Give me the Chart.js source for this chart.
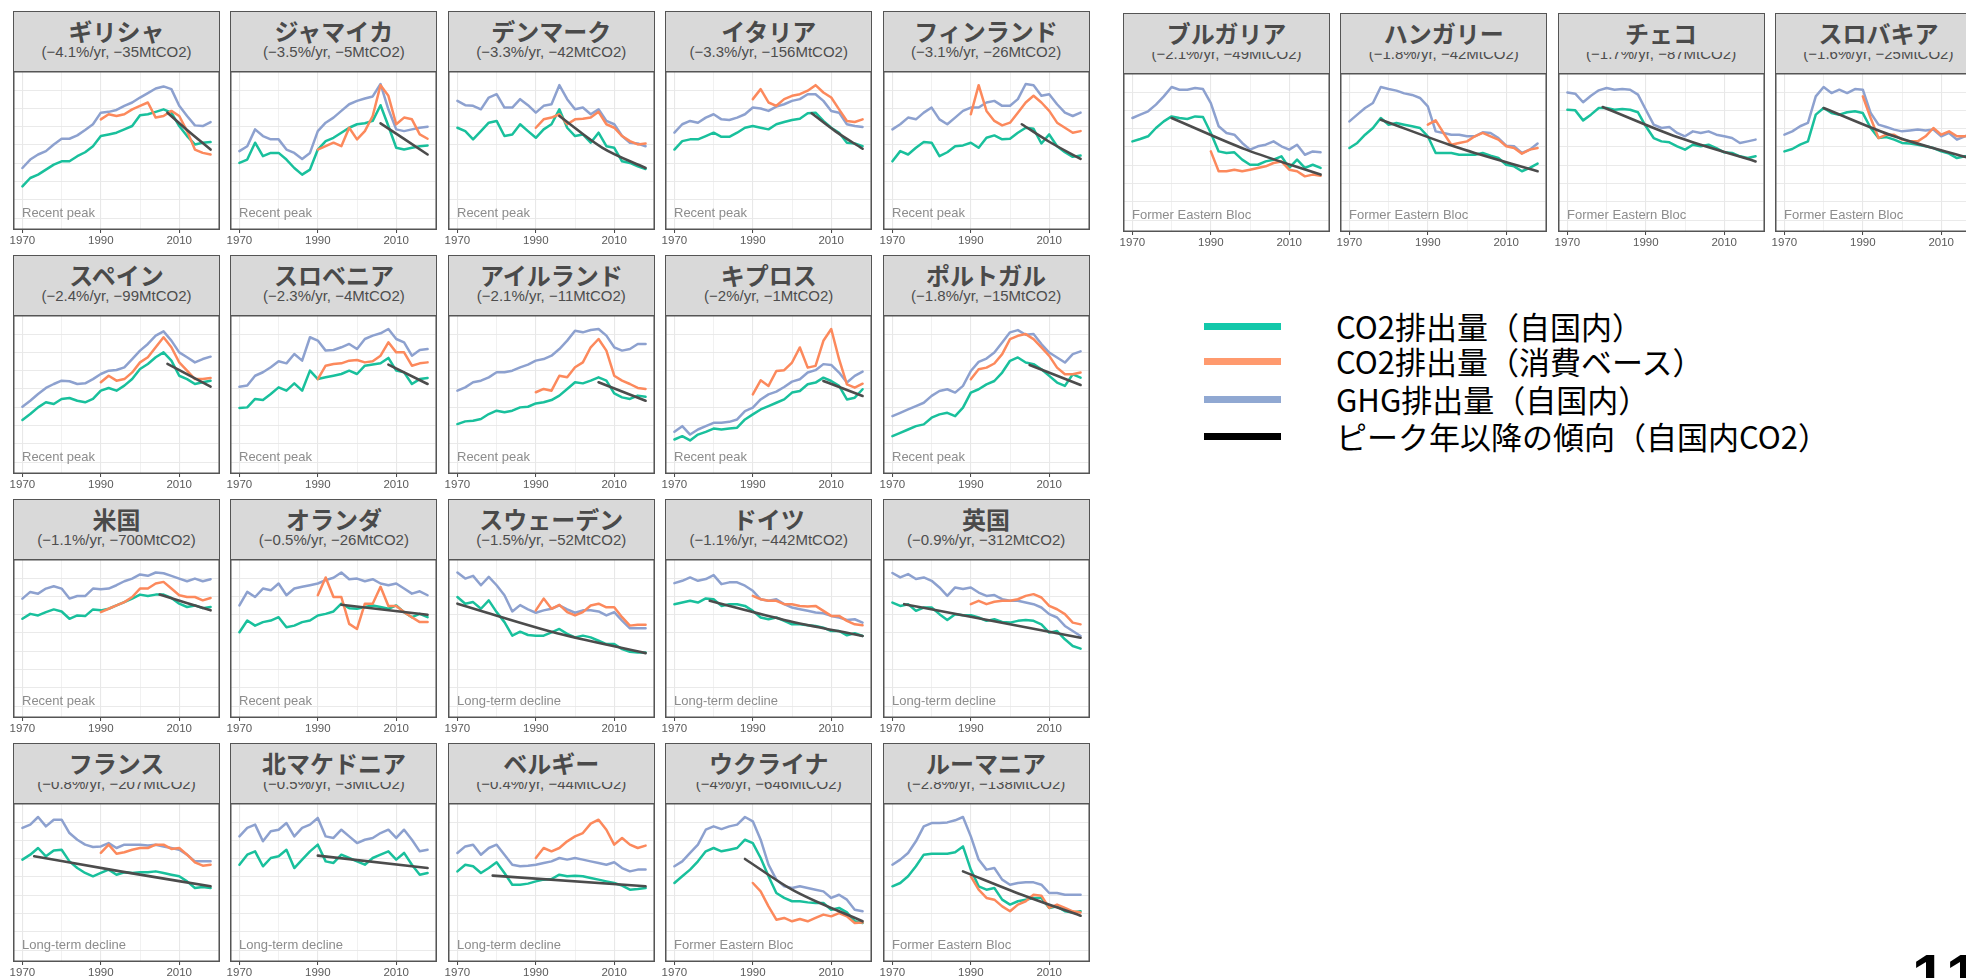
<!DOCTYPE html>
<html lang="ja">
<head>
<meta charset="utf-8">
<title>ピーク年以降の排出傾向</title>
<script src="https://cdn.jsdelivr.net/npm/chart.js@4.4.1/dist/chart.umd.min.js"></script>
<style>
  html, body { margin: 0; padding: 0; background: #fff; }
  body { width: 1966px; height: 978px; overflow: hidden; position: relative; }
  .panel { position: absolute; width: 207px; height: 240px; }
  .strip { position: relative; height: 61px; background: #d9d9d9; border: 1.5px solid #555;
           box-sizing: border-box; overflow: hidden; }
  .sub { position: absolute; left: 0; right: 0; top: 31px; line-height: 18px; text-align: center;
         font-family: "Liberation Sans", Arial, sans-serif; font-size: 15px; color: #4d4d4d; white-space: nowrap; }
  .ttl { position: absolute; left: 0; right: 0; top: 0; height: 38px; padding-top: 4px; box-sizing: border-box;
         line-height: 30px; text-align: center; font-family: "Noto Sans CJK JP", sans-serif; font-weight: 700;
         font-size: 24px; color: #4a4a4a; white-space: nowrap; }
  .ttl.clip { background: #d9d9d9; }
  .panel canvas { position: absolute; left: -8px; top: 60px; }
  .legend-item { position: absolute; left: 1204px; height: 40px; width: 720px; }
  .legend-item .sw { position: absolute; left: 0; top: 16.5px; width: 77px; height: 7px; }
  .legend-item .tx { position: absolute; left: 132px; top: 0; line-height: 40px; font-family: "Noto Sans CJK JP", sans-serif;
                     font-size: 31px; color: #000; white-space: nowrap; }
  .pageno { position: absolute; left: 1912px; top: 946px; font-family: "Liberation Sans", Arial, sans-serif;
            font-weight: 700; font-size: 60px; line-height: 60px; color: #000; letter-spacing: 4px; }
</style>
</head>
<body>
<script>
// Years sampled for every country (territorial CO2 and GHG), and for consumption-based CO2
const YEARS = [1970,1972,1974,1976,1978,1980,1982,1984,1986,1988,1990,1992,1994,1996,1998,2000,2002,2004,2006,2008,2010,2012,2014,2016,2018];
const CB_YEARS = [1990,1992,1994,1996,1998,2000,2002,2004,2006,2008,2010,2012,2014,2016,2018];
const X_GRID = [1970,1980,1990,2000,2010,2020];
const X_LABELS = [1970,1990,2010];
const Y_GRID = [7.5,19,30.5,42,53.5,65,76.5,88];

// Emission indices (share of each panel's own range, 0 = bottom, 100 = top)
const greeceGhg = [39.0,44.3,47.5,49.6,53.8,57.4,57.4,59.5,62.9,66.5,73.8,74.3,75.5,78.1,80.2,83.3,86.1,89.0,90.3,88.6,78.1,71.7,65.8,65.4,67.9];
const greeceCo2 = [27.4,32.7,34.8,38.0,41.1,43.2,43.2,46.4,48.9,52.7,59.1,60.1,61.2,63.3,65.4,72.2,72.8,74.3,75.9,73.8,65.4,59.1,53.8,54.9,55.3];
const greeceCons = [69.6,72.8,71.7,72.8,75.9,78.1,80.2,70.7,71.7,74.9,71.7,62.2,50.6,48.5,47.5];
const greeceTrendYears = [2007,2012,2018];
const greeceTrend = [73.8,62.9,50.6];

const jamaicaGhg = [49.6,52.7,63.3,59.1,57.0,57.0,50.6,48.5,44.7,48.5,62.2,67.5,70.7,74.9,79.1,81.2,82.7,84.0,91.8,75.9,63.3,62.2,63.3,64.3,65.0];
const jamaicaCo2 = [42.2,44.3,54.9,46.4,48.5,48.5,44.3,39.0,34.8,38.0,50.6,55.9,58.0,61.2,64.3,66.5,67.1,68.6,78.5,65.4,51.7,50.6,51.7,52.7,53.2];
const jamaicaCons = [50.6,52.7,54.9,52.7,64.3,57.0,62.2,71.7,91.1,84.4,66.5,70.7,69.6,60.1,57.4];
const jamaicaTrendYears = [2006,2012,2018];
const jamaicaTrend = [67.1,57.3,47.5];

const denmarkGhg = [81.2,78.5,78.1,75.9,83.3,85.4,77.0,77.0,82.3,78.5,73.8,78.1,79.1,91.1,82.3,75.9,77.0,72.8,75.9,68.6,66.5,59.1,54.9,54.4,52.7];
const denmarkCo2 = [64.3,62.2,57.0,62.2,67.5,68.6,59.1,60.1,66.5,62.2,58.0,63.3,66.5,75.9,64.3,59.1,60.1,54.9,61.2,52.7,51.7,43.2,42.2,40.1,38.4];
const denmarkCons = [64.3,69.6,70.7,72.8,66.5,69.6,70.0,70.7,74.3,66.5,64.3,59.1,55.9,53.8,54.4];
const denmarkTrendYears = [1996,2007,2018];
const denmarkTrend = [71.7,51.7,39.0];

const italyGhg = [61.2,66.5,68.6,67.5,70.7,72.8,69.6,69.2,70.7,72.8,77.0,76.4,74.9,77.6,79.1,81.2,82.3,85.4,85.4,81.2,74.9,73.8,66.5,65.4,64.8];
const italyCo2 = [50.6,55.9,57.0,57.0,59.1,61.2,58.6,58.6,61.2,64.3,65.4,64.3,63.3,66.5,67.9,69.2,70.0,73.4,73.8,68.6,64.3,61.2,54.9,54.4,52.7];
const italyCons = [82.3,88.6,80.2,78.1,82.3,84.4,85.4,87.6,91.1,86.5,83.3,75.9,68.6,67.9,69.6];
const italyTrendYears = [2005,2011,2018];
const italyTrend = [73.4,62.2,51.1];

const finlandGhg = [63.3,66.5,70.7,69.6,73.8,77.0,69.6,66.5,70.7,74.9,77.0,77.0,80.2,81.2,78.1,78.1,82.3,91.8,91.1,84.4,85.4,79.1,73.8,71.7,73.8];
const finlandCo2 = [43.2,49.6,47.5,51.7,55.3,54.9,46.4,48.9,52.7,53.2,54.9,51.7,58.0,59.5,57.0,57.4,61.2,64.3,63.7,54.4,60.1,52.7,48.9,46.0,46.8];
const finlandCons = [72.8,91.1,74.9,68.6,65.8,67.5,73.8,80.2,84.4,80.2,74.9,67.5,64.3,61.2,62.2];
const finlandTrendYears = [2003,2010,2018];
const finlandTrend = [66.5,55.5,44.7];

const spainGhg = [42.3,46.1,50.3,54.1,56.6,58.7,58.3,56.6,57.0,59.7,62.9,65.0,65.4,67.1,72.3,77.6,81.8,87.0,89.7,83.9,76.5,73.4,70.2,72.3,73.8];
const spainCo2 = [34.0,37.7,41.9,45.1,44.0,47.2,47.8,46.1,45.1,47.2,52.4,54.1,52.4,55.6,59.7,66.0,69.2,73.4,76.5,71.3,61.8,59.7,56.6,57.7,58.7];
const spainCons = [57.7,61.8,58.7,59.7,63.9,70.2,73.4,79.7,86.0,79.7,70.2,65.0,59.7,59.7,60.4];
const spainTrendYears = [2007,2018];
const spainTrend = [69.2,54.9];

const sloveniaGhg = [54.9,55.6,61.8,64.0,67.1,70.9,69.6,75.5,71.3,86.0,83.9,77.6,78.0,79.7,81.8,78.6,84.9,87.0,88.5,91.2,84.9,82.8,74.4,78.0,78.6];
const sloveniaCo2 = [41.5,41.9,47.2,46.5,50.3,54.5,52.4,57.0,52.4,65.0,59.7,60.8,61.8,62.9,65.0,62.9,68.1,68.8,69.6,73.0,65.0,63.9,56.6,59.7,60.4];
const sloveniaCons = [59.7,68.1,69.2,69.6,71.3,71.7,70.2,70.9,74.4,82.8,76.5,76.5,68.1,69.6,70.2];
const sloveniaTrendYears = [2008,2018];
const sloveniaTrend = [68.8,56.6];

const irelandGhg = [52.4,54.5,57.7,58.7,60.8,64.0,64.0,65.0,67.1,68.8,71.3,72.3,74.4,78.6,83.9,90.1,89.1,90.6,91.2,87.0,79.7,77.6,78.6,81.8,81.8];
const irelandCo2 = [31.4,33.1,33.5,34.6,37.7,39.8,38.8,39.8,41.9,42.3,44.4,45.1,46.5,49.3,53.5,57.7,57.0,58.7,60.8,58.7,50.7,48.2,47.2,49.3,48.6];
const irelandCons = [51.4,53.5,52.4,61.8,60.8,67.1,70.2,79.7,84.9,77.6,61.8,58.7,56.6,54.1,53.5];
const irelandTrendYears = [2006,2018];
const irelandTrend = [57.7,46.1];

const cyprusGhg = [26.5,30.1,24.8,28.0,30.1,32.2,32.2,32.8,34.3,39.6,41.7,46.9,50.1,51.8,54.7,58.1,59.6,63.8,65.3,69.1,68.6,63.8,57.5,61.7,64.4];
const cyprusCo2 = [21.7,23.8,21.1,24.8,26.5,28.6,28.0,28.6,29.1,34.3,37.5,40.6,42.7,44.8,46.9,51.2,52.2,56.4,57.5,60.6,58.5,55.4,46.9,48.0,53.3];
const cyprusCons = [50.1,58.9,55.4,64.8,65.3,70.1,79.6,66.9,68.0,83.8,91.2,72.2,56.4,54.3,56.8];
const cyprusTrendYears = [2008,2018];
const cyprusTrend = [58.5,49.1];

const portugalGhg = [36.4,38.5,40.6,42.7,44.8,49.1,52.2,53.3,51.2,55.4,64.8,70.5,72.6,76.4,82.7,89.1,90.5,87.6,88.0,81.7,76.4,73.3,70.1,75.4,77.1];
const portugalCo2 = [23.8,25.9,28.0,30.1,31.2,35.4,37.5,38.5,36.4,41.7,51.2,53.3,56.4,58.5,63.8,71.2,73.3,70.1,69.1,65.9,61.7,57.5,55.4,62.7,60.6];
const portugalCons = [59.6,65.9,66.9,69.5,75.4,84.8,86.9,88.0,84.8,79.6,74.3,66.9,62.7,62.7,63.8];
const portugalTrendYears = [2005,2018];
const portugalTrend = [68.6,56.0];

const usaGhg = [75.1,79.3,78.2,81.4,82.9,81.4,75.1,76.7,76.7,81.4,81.0,81.4,83.5,86.0,87.7,90.3,89.4,91.5,91.0,89.4,87.7,86.0,87.7,86.0,87.3];
const usaCo2 = [62.4,65.5,64.5,66.6,68.3,67.0,62.4,64.5,64.1,68.3,67.7,68.7,70.8,72.9,75.1,77.6,76.7,77.6,77.6,75.5,71.9,69.8,70.8,69.1,69.8];
const usaCons = [66.6,68.7,70.8,72.9,76.1,81.4,81.4,84.6,85.6,81.4,77.2,76.1,76.1,74.0,75.5];
const usaTrendYears = [2005,2018];
const usaTrend = [77.6,67.7];

const netherlandsGhg = [70.8,79.3,76.1,81.4,80.3,84.6,77.2,81.4,82.5,83.5,84.6,86.7,88.2,91.5,87.3,87.7,86.0,87.3,84.6,83.5,84.6,81.4,78.2,79.7,77.2];
const netherlandsCo2 = [53.9,61.3,58.1,60.3,61.3,63.4,57.1,58.1,60.3,61.3,64.5,65.5,67.0,71.9,69.1,68.7,69.8,70.8,69.8,68.7,70.8,66.6,63.4,65.5,63.4];
const netherlandsCons = [77.2,88.4,76.1,76.1,59.2,56.0,71.9,71.9,82.5,70.4,70.4,66.6,63.4,60.3,60.3];
const netherlandsTrendYears = [1996,2018];
const netherlandsTrend = [71.2,64.9];

const swedenGhg = [91.5,87.7,89.4,83.5,88.8,83.5,77.2,67.0,71.0,68.3,66.2,67.7,68.7,70.8,68.3,66.2,67.7,67.7,67.0,64.5,66.6,61.3,56.4,56.4,56.4];
const swedenCo2 = [76.1,71.9,72.9,68.7,74.0,66.6,60.3,51.8,54.3,52.2,51.8,51.8,53.9,56.0,52.9,50.7,51.8,50.7,48.6,46.5,46.5,43.3,41.6,41.2,41.2];
const swedenCons = [67.7,75.1,68.7,71.2,66.6,64.5,66.6,70.8,71.9,69.6,69.6,63.4,58.1,58.6,58.6];
const swedenTrendYears = [1970,1994,2018];
const swedenTrend = [71.9,54.3,40.8];

const germanyGhg = [84.8,86.3,88.4,86.3,87.4,89.9,84.2,85.3,85.3,83.2,80.0,74.7,73.7,74.7,71.6,69.5,68.4,67.4,66.3,65.9,64.2,63.2,61.7,62.1,60.0];
const germanyCo2 = [71.6,72.6,73.7,72.6,75.2,74.7,70.5,71.6,71.6,70.5,67.4,63.2,62.1,63.2,61.1,58.9,58.9,58.3,57.9,56.8,54.7,54.7,52.0,53.3,51.6];
const germanyCons = [76.8,74.7,73.7,73.7,71.6,71.6,70.5,70.1,70.5,67.4,64.2,64.2,61.1,58.9,58.3];
const germanyTrendYears = [1979,1998,2018];
const germanyTrend = [73.7,61.7,51.6];

const ukGhg = [91.2,88.4,90.5,87.4,88.4,86.3,82.1,76.8,82.1,81.1,82.1,78.9,76.8,77.3,74.7,73.7,73.7,72.6,71.6,69.5,65.3,63.2,57.9,54.7,51.6];
const ukCo2 = [72.6,70.5,71.6,67.4,69.5,69.5,65.3,61.7,65.3,64.6,64.6,63.2,61.1,62.1,60.4,60.0,61.1,61.7,61.1,58.9,53.7,54.7,49.5,45.3,43.6];
const ukCons = [71.6,73.7,71.6,73.1,73.7,73.7,74.7,76.8,77.9,75.8,70.5,68.4,65.3,60.0,58.9];
const ukTrendYears = [1973,2018];
const ukTrend = [71.6,50.5];

const franceGhg = [84.3,86.4,91.2,85.3,89.5,89.5,81.1,76.9,73.8,72.3,72.7,74.8,71.7,73.8,73.8,73.8,73.2,73.8,72.7,71.7,70.6,67.5,63.3,63.3,63.3];
const franceCo2 = [64.4,67.5,71.7,66.5,70.2,70.6,63.3,59.1,56.0,53.9,56.0,58.1,54.9,56.4,56.0,56.4,56.4,57.0,56.0,54.9,53.9,50.7,46.5,47.2,46.5];
const franceCons = [68.6,73.8,68.1,69.0,70.6,71.7,71.7,73.8,73.8,71.1,71.7,67.5,62.7,60.6,61.2];
const franceTrendYears = [1973,1995,2018];
const franceTrend = [66.5,57.0,47.6];

const macedoniaGhg = [79.0,84.3,86.4,75.9,82.2,83.2,87.4,79.0,84.3,86.4,90.6,79.0,78.0,83.2,79.0,74.8,76.9,78.0,81.1,83.2,78.0,83.2,76.9,69.6,70.6];
const macedoniaCo2 = [61.2,67.5,69.6,60.2,65.4,66.5,70.6,59.1,64.4,69.6,73.8,63.3,62.3,67.5,65.4,63.3,61.2,65.4,67.5,69.6,64.4,68.6,61.2,54.9,56.0];
const macedoniaCons = [];
const macedoniaTrendYears = [1990,2018];
const macedoniaTrend = [66.9,59.1];

const belgiumGhg = [68.6,72.7,73.8,67.5,71.7,73.8,67.5,61.2,60.2,60.6,61.2,62.3,63.3,65.4,64.4,65.4,64.4,63.3,62.3,61.2,62.7,59.1,57.0,58.1,58.1];
const belgiumCo2 = [57.0,61.2,60.2,56.0,59.1,62.7,56.0,48.6,48.6,49.3,50.7,51.8,52.2,54.9,53.9,54.3,53.9,52.8,51.8,50.7,49.7,48.0,45.5,45.9,46.5];
const belgiumCons = [65.4,71.7,69.6,71.7,75.9,79.0,81.1,87.0,89.5,83.2,73.8,78.0,73.8,71.7,73.2];
const belgiumTrendYears = [1979,2018];
const belgiumTrend = [54.3,47.6];

const ukraineGhg = [60.2,63.3,68.6,73.8,83.2,85.3,83.6,85.3,86.4,91.2,88.5,76.9,61.2,51.8,47.6,46.5,47.6,46.5,45.5,44.4,40.3,42.3,39.2,32.9,31.9];
const ukraineCo2 = [49.7,53.9,58.1,63.3,69.6,71.7,69.6,70.6,71.7,76.9,74.8,65.4,53.9,43.4,40.3,38.2,38.2,37.5,37.1,37.1,32.9,34.0,31.2,25.6,24.5];
const ukraineCons = [49.7,44.4,35.0,26.6,27.7,25.6,27.0,25.6,27.7,29.8,28.7,30.8,28.7,24.5,24.9];
const ukraineTrendYears = [1988,2000,2018];
const ukraineTrend = [64.8,45.5,25.6];

const romaniaGhg = [61.2,64.4,68.6,75.9,85.3,87.4,87.4,87.8,89.1,91.2,79.0,64.4,58.1,59.1,51.8,48.6,49.7,50.1,50.1,48.6,43.4,43.4,42.3,42.3,42.3];
const romaniaCo2 = [47.6,49.7,53.9,60.2,67.5,68.1,68.1,68.1,69.0,72.7,58.1,47.6,45.5,46.5,39.2,36.1,38.2,39.2,40.3,40.3,34.0,35.0,31.9,31.2,31.9];
const romaniaCons = [53.9,45.5,40.3,39.2,35.0,31.9,36.1,38.2,42.3,41.7,34.0,36.1,34.0,31.9,31.2];
const romaniaTrendYears = [1988,2003,2018];
const romaniaTrend = [57.0,42.3,29.1];

const bulgariaGhg = [71.7,73.8,75.9,80.1,85.3,91.2,89.5,89.5,90.6,89.9,81.1,66.5,62.3,61.2,56.0,51.8,53.9,54.9,57.0,53.9,51.8,54.9,48.6,50.7,50.1];
const bulgariaCo2 = [57.0,58.5,60.2,65.4,69.6,72.7,71.7,71.1,72.7,72.3,62.3,50.7,49.7,50.1,45.5,42.3,42.3,44.4,45.5,47.6,40.3,45.5,40.3,42.3,40.3];
const bulgariaCons = [50.7,38.2,38.2,39.2,38.2,39.2,40.3,41.3,43.4,44.4,39.2,38.2,35.0,36.1,35.4];
const bulgariaTrendYears = [1980,1999,2018];
const bulgariaTrend = [71.7,51.8,36.1];

const hungaryGhg = [69.6,73.8,78.0,81.1,91.2,89.9,88.9,87.2,86.2,84.3,79.0,63.3,62.3,61.2,61.2,60.2,60.2,62.7,62.3,59.1,54.3,53.9,49.7,51.8,55.6];
const hungaryCo2 = [52.8,56.0,61.2,65.4,71.7,67.5,68.6,67.5,66.5,65.4,60.2,49.7,49.7,49.7,48.6,48.6,48.6,49.7,48.0,46.5,42.3,41.3,38.2,40.3,43.0];
const hungaryCons = [67.5,70.2,62.3,54.9,56.0,57.0,60.2,62.3,60.2,58.1,53.9,52.8,49.3,51.8,52.8];
const hungaryTrendYears = [1978,1998,2018];
const hungaryTrend = [70.6,52.8,38.2];

const czechGhg = [87.8,87.0,81.6,85.7,89.1,90.6,89.5,89.9,89.5,86.4,76.9,67.5,65.4,66.0,62.3,60.2,63.3,62.3,63.3,61.2,60.2,59.1,56.0,57.0,58.1];
const czechCo2 = [76.9,76.5,70.2,73.8,78.0,78.0,76.9,77.4,76.9,75.3,66.5,59.1,57.0,56.4,53.9,51.8,54.9,53.9,54.9,52.8,50.1,49.7,47.6,46.5,47.6];
const czechCons = [];
const czechTrendYears = [1979,1998,2018];
const czechTrend = [78.6,59.7,44.4];

const slovakiaGhg = [61.2,63.3,66.5,68.6,85.3,91.2,87.4,89.5,87.4,89.9,89.5,74.8,67.5,66.0,64.4,63.3,63.9,64.4,63.9,64.4,60.2,62.3,58.1,60.2,61.2];
const slovakiaCo2 = [50.7,52.2,54.9,57.0,73.8,78.0,74.8,73.8,75.3,75.9,74.8,65.4,59.1,59.7,58.1,56.0,55.6,54.9,53.9,52.8,50.7,49.3,46.5,47.6,48.0];
const slovakiaCons = [85.3,71.7,59.1,61.2,61.2,58.1,57.0,57.0,60.2,65.4,61.2,63.3,60.2,60.2,61.2];
const slovakiaTrendYears = [1980,1998,2018];
const slovakiaTrend = [78.0,60.2,45.9];

// Panel headings, in drawing order
const countryNames = ['ギリシャ','ジャマイカ','デンマーク','イタリア','フィンランド',
  'スペイン','スロベニア','アイルランド','キプロス','ポルトガル',
  '米国','オランダ','スウェーデン','ドイツ','英国',
  'フランス','北マケドニア','ベルギー','ウクライナ','ルーマニア',
  'ブルガリア','ハンガリー','チェコ','スロバキア'];
const rateLabels = ['(−4.1%/yr, −35MtCO2)','(−3.5%/yr, −5MtCO2)','(−3.3%/yr, −42MtCO2)','(−3.3%/yr, −156MtCO2)','(−3.1%/yr, −26MtCO2)',
  '(−2.4%/yr, −99MtCO2)','(−2.3%/yr, −4MtCO2)','(−2.1%/yr, −11MtCO2)','(−2%/yr, −1MtCO2)','(−1.8%/yr, −15MtCO2)',
  '(−1.1%/yr, −700MtCO2)','(−0.5%/yr, −26MtCO2)','(−1.5%/yr, −52MtCO2)','(−1.1%/yr, −442MtCO2)','(−0.9%/yr, −312MtCO2)',
  '(−0.8%/yr, −207MtCO2)','(−0.5%/yr, −3MtCO2)','(−0.4%/yr, −44MtCO2)','(−4%/yr, −646MtCO2)','(−2.8%/yr, −138MtCO2)',
  '(−2.1%/yr, −49MtCO2)','(−1.8%/yr, −42MtCO2)','(−1.7%/yr, −87MtCO2)','(−1.6%/yr, −25MtCO2)'];
const groupLabels = ['Recent peak','Recent peak','Recent peak','Recent peak','Recent peak',
  'Recent peak','Recent peak','Recent peak','Recent peak','Recent peak',
  'Recent peak','Recent peak','Long-term decline','Long-term decline','Long-term decline',
  'Long-term decline','Long-term decline','Long-term decline','Former Eastern Bloc','Former Eastern Bloc',
  'Former Eastern Bloc','Former Eastern Bloc','Former Eastern Bloc','Former Eastern Bloc'];

const ghgSeries = [greeceGhg,jamaicaGhg,denmarkGhg,italyGhg,finlandGhg,spainGhg,sloveniaGhg,irelandGhg,cyprusGhg,portugalGhg,
  usaGhg,netherlandsGhg,swedenGhg,germanyGhg,ukGhg,franceGhg,macedoniaGhg,belgiumGhg,ukraineGhg,romaniaGhg,
  bulgariaGhg,hungaryGhg,czechGhg,slovakiaGhg];
const co2Series = [greeceCo2,jamaicaCo2,denmarkCo2,italyCo2,finlandCo2,spainCo2,sloveniaCo2,irelandCo2,cyprusCo2,portugalCo2,
  usaCo2,netherlandsCo2,swedenCo2,germanyCo2,ukCo2,franceCo2,macedoniaCo2,belgiumCo2,ukraineCo2,romaniaCo2,
  bulgariaCo2,hungaryCo2,czechCo2,slovakiaCo2];
const consSeries = [greeceCons,jamaicaCons,denmarkCons,italyCons,finlandCons,spainCons,sloveniaCons,irelandCons,cyprusCons,portugalCons,
  usaCons,netherlandsCons,swedenCons,germanyCons,ukCons,franceCons,macedoniaCons,belgiumCons,ukraineCons,romaniaCons,
  bulgariaCons,hungaryCons,czechCons,slovakiaCons];
const trendYearSeries = [greeceTrendYears,jamaicaTrendYears,denmarkTrendYears,italyTrendYears,finlandTrendYears,spainTrendYears,
  sloveniaTrendYears,irelandTrendYears,cyprusTrendYears,portugalTrendYears,usaTrendYears,netherlandsTrendYears,swedenTrendYears,
  germanyTrendYears,ukTrendYears,franceTrendYears,macedoniaTrendYears,belgiumTrendYears,ukraineTrendYears,romaniaTrendYears,
  bulgariaTrendYears,hungaryTrendYears,czechTrendYears,slovakiaTrendYears];
const trendSeries = [greeceTrend,jamaicaTrend,denmarkTrend,italyTrend,finlandTrend,spainTrend,sloveniaTrend,irelandTrend,cyprusTrend,
  portugalTrend,usaTrend,netherlandsTrend,swedenTrend,germanyTrend,ukTrend,franceTrend,macedoniaTrend,belgiumTrend,ukraineTrend,
  romaniaTrend,bulgariaTrend,hungaryTrend,czechTrend,slovakiaTrend];

const legendLabels = ['CO2排出量（自国内）','CO2排出量（消費ベース）','GHG排出量（自国内）','ピーク年以降の傾向（自国内CO2）'];

// Styling
const COL_CO2 = '#19c09c';
const COL_CONS = '#fc895c';
const COL_GHG = '#8da1cf';
const COL_TREND = '#4c4c4c';
const LEGEND_COLS = ['#12c8aa','#ff9a6e','#90a8d2','#000000'];
const SIDE_PAD = 8; // canvas margin so the first and last year labels are not cut

const toPoints = (xs, ys) => ys.map((v, i) => ({ x: xs[i], y: v }));

// Draws the group note inside the plot and the dark frame around the plot area
const panelFrame = {
  id: 'panelFrame',
  beforeDatasetsDraw(chart, args, opts) {
    const { ctx, chartArea: a } = chart;
    ctx.save();
    ctx.font = '13px "Liberation Sans", Arial, sans-serif';
    ctx.fillStyle = '#8c8c8c';
    ctx.textBaseline = 'middle';
    ctx.fillText(opts.note || '', a.left + 9, a.bottom - 17);
    ctx.restore();
  },
  afterDraw(chart) {
    const { ctx, chartArea: a } = chart;
    ctx.save();
    ctx.strokeStyle = '#555';
    ctx.lineWidth = 1.5;
    ctx.strokeRect(a.left + 0.75, a.top + 0.75, a.width - 1.5, a.height - 1.5);
    ctx.restore();
  }
};

function addPanel(i, left, top, clipped) {
  const div = document.createElement('div');
  div.className = 'panel';
  div.style.left = left + 'px';
  div.style.top = top + 'px';
  const strip = document.createElement('div');
  strip.className = 'strip';
  const sub = document.createElement('div');
  sub.className = 'sub';
  sub.textContent = rateLabels[i];
  const ttl = document.createElement('div');
  ttl.className = 'ttl' + (clipped ? ' clip' : '');
  ttl.textContent = countryNames[i];
  strip.appendChild(sub);
  strip.appendChild(ttl);
  div.appendChild(strip);
  const cv = document.createElement('canvas');
  cv.width = 207 + 2 * SIDE_PAD;
  cv.height = 179;
  div.appendChild(cv);
  document.body.appendChild(div);

  new Chart(cv, {
    type: 'line',
    data: {
      datasets: [
        { label: 'trend', data: toPoints(trendYearSeries[i], trendSeries[i]), borderColor: COL_TREND, borderWidth: 2.6, cubicInterpolationMode: 'monotone' },
        { label: 'cons', data: toPoints(CB_YEARS, consSeries[i]), borderColor: COL_CONS, borderWidth: 2.5 },
        { label: 'co2', data: toPoints(YEARS, co2Series[i]), borderColor: COL_CO2, borderWidth: 2.5 },
        { label: 'ghg', data: toPoints(YEARS, ghgSeries[i]), borderColor: COL_GHG, borderWidth: 2.5 }
      ]
    },
    options: {
      responsive: false,
      animation: false,
      devicePixelRatio: 1,
      events: [],
      layout: { padding: { left: SIDE_PAD, right: SIDE_PAD, top: 0, bottom: 0 } },
      elements: {
        point: { radius: 0 },
        line: { tension: 0, fill: false, borderJoinStyle: 'round', borderCapStyle: 'round' }
      },
      plugins: {
        legend: { display: false },
        tooltip: { enabled: false },
        panelFrame: { note: groupLabels[i] }
      },
      scales: {
        x: {
          type: 'linear',
          min: 1967.6,
          max: 2020.4,
          afterBuildTicks: s => { s.ticks = X_GRID.map(v => ({ value: v })); },
          afterFit: s => { s.height = 20; s.paddingLeft = 0; s.paddingRight = 0; },
          border: { display: false },
          grid: {
            color: '#e8e8e8',
            lineWidth: c => (c.tick && X_LABELS.includes(c.tick.value)) ? 1.1 : 0.6,
            drawTicks: true,
            tickLength: 3,
            tickWidth: 1,
            tickColor: c => (c.tick && X_LABELS.includes(c.tick.value)) ? '#444' : 'rgba(0,0,0,0)'
          },
          ticks: {
            autoSkip: false,
            maxRotation: 0,
            padding: 1,
            color: '#5a5a5a',
            font: { family: 'Liberation Sans', size: 11.5 },
            callback: v => X_LABELS.includes(v) ? String(v) : ''
          }
        },
        y: {
          type: 'linear',
          min: 0,
          max: 100,
          afterBuildTicks: s => { s.ticks = Y_GRID.map(v => ({ value: v })); },
          afterFit: s => { s.width = 0; s.paddingTop = 0; s.paddingBottom = 0; },
          border: { display: false },
          grid: { color: '#e8e8e8', lineWidth: 0.9, drawTicks: false },
          ticks: { display: false }
        }
      }
    },
    plugins: [panelFrame]
  });
}

// Left block: 4 rows x 5 columns
for (let i = 0; i < 20; i++) {
  const row = Math.floor(i / 5), col = i % 5;
  addPanel(i, 13 + col * 217.4, 11 + row * 244, row === 3);
}
// Right block: one row of former Eastern Bloc countries
for (let k = 0; k < 4; k++) {
  addPanel(20 + k, 1123 + k * 217.3, 12.5, true);
}

// Legend
const legendY = [326, 361, 399, 436];
legendLabels.forEach((txt, k) => {
  const item = document.createElement('div');
  item.className = 'legend-item';
  item.style.top = (legendY[k] - 20) + 'px';
  const sw = document.createElement('div');
  sw.className = 'sw';
  sw.style.background = LEGEND_COLS[k];
  const tx = document.createElement('div');
  tx.className = 'tx';
  tx.textContent = txt;
  item.appendChild(sw);
  item.appendChild(tx);
  document.body.appendChild(item);
});

// Page number
const pg = document.createElement('div');
pg.className = 'pageno';
pg.textContent = '11';
document.body.appendChild(pg);
</script>
</body>
</html>
